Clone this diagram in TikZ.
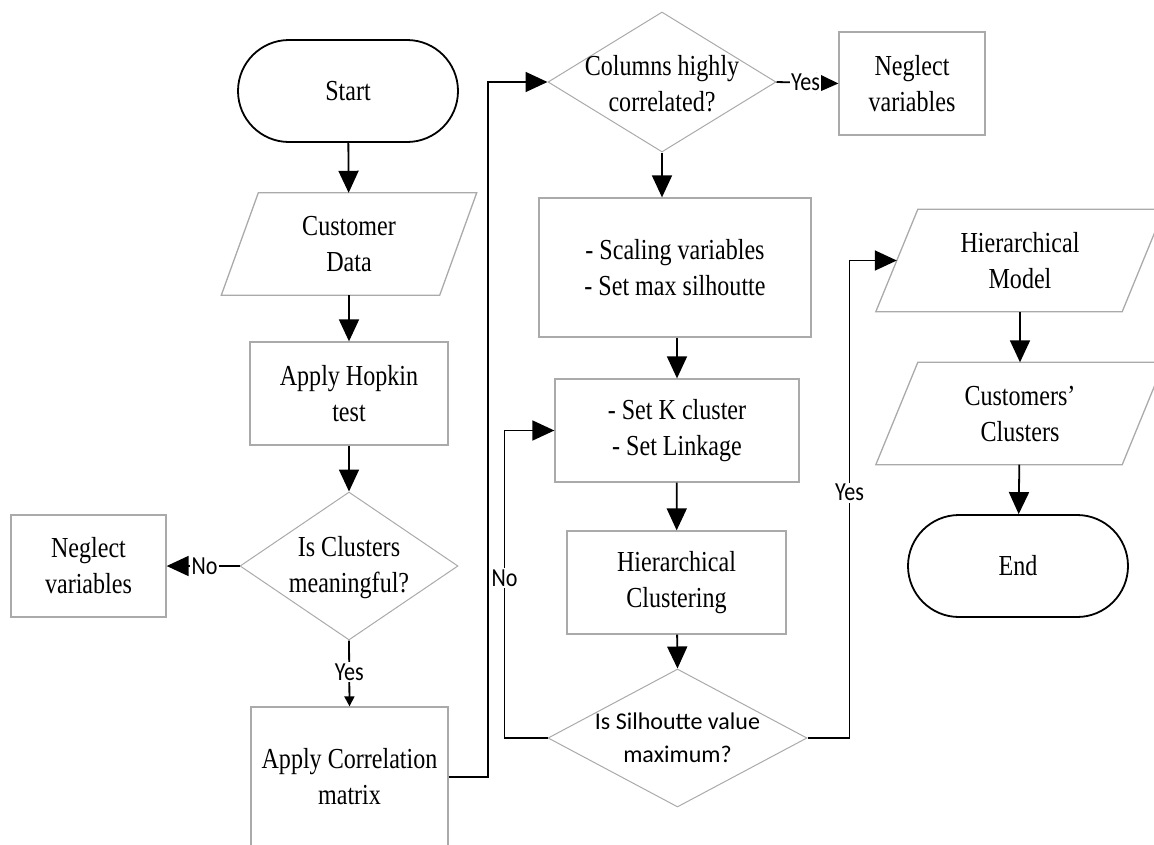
\documentclass[tikz,border=0pt]{standalone}
\usepackage{fontspec}
\setmainfont[FakeStretch=0.83]{Liberation Serif}
\newfontfamily\lab{Carlito}
\newfontfamily\labn[FakeStretch=0.85]{Carlito}
\usetikzlibrary{shapes.geometric,arrows.meta}
\definecolor{boxgray}{RGB}{170,170,170}
\newcommand\drawpara[2]{\draw[iobox] ([xshift=#2]#1.north west) -- ([xshift=#2]#1.north east) -- ([xshift=-#2]#1.south east) -- ([xshift=-#2]#1.south west) -- cycle;}
\begin{document}
\begin{tikzpicture}[x=1pt,y=-1pt,
  every node/.style={font=\fontsize{29}{36}\selectfont, align=center, inner sep=0pt},
  term/.style={draw=black, line width=1.8pt, rounded corners=51pt, minimum width=220pt, minimum height=102pt},
  proc/.style={draw=boxgray, line width=1.3pt},
  iorect/.style={rectangle, minimum height=102pt},
  iobox/.style={draw=boxgray, line width=1.3pt},
  dec/.style={diamond, draw=boxgray, line width=1pt, inner sep=0pt},
  conn/.style={line width=1.8pt, -{Triangle[length=22pt,width=20pt]}},
  lbl/.style={font=\labn\fontsize{26}{28}\selectfont, fill=white, inner sep=1.5pt},
  dtxt/.style={},
]
\path[use as bounding box] (0,0) rectangle (1154,844);
\clip (0,0) rectangle (1154,844);

% left column
\node[term] (start) at (348,91) {Start};
\node[iorect, minimum width=218pt] (cdata) at (349,244) {Customer\\Data};
\drawpara{cdata}{18.5pt}
\node[proc, minimum width=198pt, minimum height=103pt] (hop) at (349,393.5) {Apply Hopkin\\test};
\node[dec, minimum width=218pt, minimum height=148pt] (d1) at (349,566) {};
\node[dtxt] (d1t) at (349,568) {Is Clusters\\meaningful?};
\node[proc, minimum width=155pt, minimum height=102pt] (negl1) at (88.5,566) {Neglect\\variables};
\node[proc, minimum width=197pt, minimum height=140pt] (corr) at (349.5,777) {Apply Correlation\\matrix};

% middle column
\node[dec, minimum width=228pt, minimum height=140pt] (d2) at (662,82) {};
\node[dtxt] (d2t) at (662,84) {Columns highly\\correlated?};
\node[proc, minimum width=146pt, minimum height=103pt] (negr) at (912,83.5) {Neglect\\variables};
\node[proc, minimum width=272pt, minimum height=139pt] (scal) at (675,267.5) {- Scaling variables\\- Set max silhoutte};
\node[proc, minimum width=244pt, minimum height=103pt] (setk) at (677,430.5) {- Set K cluster\\- Set Linkage};
\node[proc, minimum width=219pt, minimum height=103pt] (hc) at (676.5,582.5) {Hierarchical\\Clustering};
\node[dec, minimum width=259pt, minimum height=138pt] (d3) at (677.5,738) {};
\node[dtxt, font=\lab\fontsize{24}{33}\selectfont] (d3t) at (677.5,738) {Is Silhoutte value\\maximum?};

% right column
\node[iorect, minimum width=246pt] (hm) at (1020,260.5) {Hierarchical\\Model};
\drawpara{hm}{21pt}
\node[iorect, minimum width=246pt] (cc) at (1020,413.5) {Customers'\\Clusters};
\drawpara{cc}{21pt}
\node[term] (end) at (1018,566) {End};

% connectors
\draw[conn] (start) -- (cdata);
\draw[conn] (cdata.south) -- (hop.north);
\draw[conn] (hop) -- (d1.north);
\draw[conn] (d1.west) -- node[lbl, pos=0.48]{No} (negl1.east);
\draw[line width=1.8pt, -{Triangle[length=10pt,width=10pt]}] (d1.south) -- node[lbl, pos=0.48]{Yes} (corr.north);
\draw[conn] (corr.east) -- ++(39,0) |- (d2.west);
\draw[conn] (d2.east) -- node[lbl, pos=0.47]{Yes} (negr.west);
\draw[conn] (d2.south) -- (d2.south |- scal.north);
\draw[conn] (scal.south -| setk.north) -- (setk.north);
\draw[conn] (setk) -- (hc);
\draw[conn] (hc) -- (d3.north);
\draw[conn] (d3.west) -- ++(-43,0) |- node[lbl, pos=0.26]{No} (setk.west);
\draw[conn] (d3.east) -- ++(42,0) |- node[lbl, pos=0.257]{Yes} (hm.west);
\draw[conn] (hm) -- (cc);
\draw[conn] (cc) -- (end);
\end{tikzpicture}
\end{document}
